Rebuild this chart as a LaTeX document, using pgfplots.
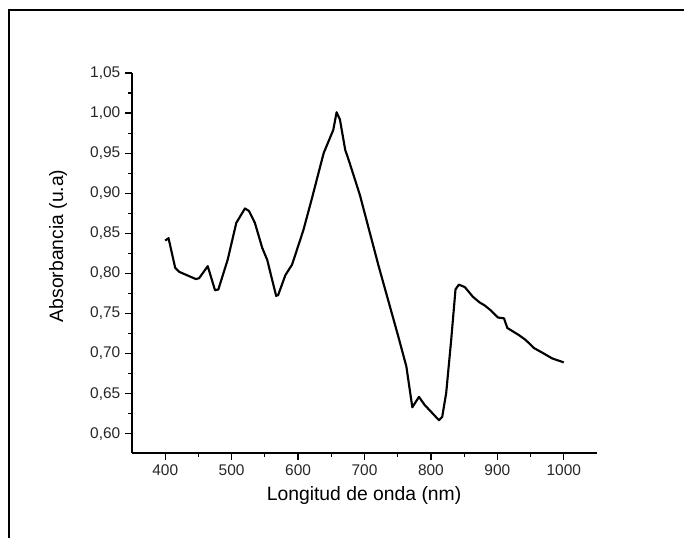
\documentclass[border=0pt]{standalone}
\usepackage{fontspec}
\setmainfont{Liberation Sans}
\usepackage{pgfplots}
\pgfplotsset{compat=1.18}
\begin{document}
\begin{tikzpicture}
\path[use as bounding box] (-99pt,-63.75pt) rectangle (414pt,339.75pt);
\draw[line width=1.1pt] (-92.25pt,-64pt) -- (-92.25pt,332.25pt) -- (415pt,332.25pt);
\begin{axis}[
  at={(0,0)}, anchor=south west,
  scale only axis, width=348.75pt, height=285pt,
  xmin=350, xmax=1050, ymin=0.576, ymax=1.05,
  axis lines*=left,
  axis line style={line width=0.9pt},
  tick align=outside,
  major tick length=5.25pt, minor tick length=3pt,
  every tick/.style={line width=0.9pt, black},
  xtick={400,500,...,1000},
  ytick={0.60,0.65,...,1.051},
  minor x tick num=1, minor y tick num=1,
  /pgf/number format/assume math mode=true,
  yticklabel style={/pgf/number format/.cd, fixed, fixed zerofill, precision=2, use comma},
  xticklabel style={/pgf/number format/.cd, fixed, precision=0, 1000 sep={}},
  tick label style={font=\fontsize{11.6}{14}\selectfont, color=black!85},
  label style={font=\fontsize{14.5}{17}\selectfont},
  xlabel={Longitud de onda (nm)},
  ylabel={Absorbancia (u.a)},
  xlabel style={at={(axis description cs:0.499,-0.113)}, anchor=center},
  ylabel style={at={(axis description cs:-0.159,0.545)}, anchor=center},
]
\addplot[black, line width=1.6pt, line join=round] coordinates {
(400,0.841) (405,0.844) (415,0.807) (421,0.802) (446,0.793) (451,0.794)
(464,0.809) (475,0.779) (480,0.780) (494,0.817) (507,0.863) (520,0.881)
(526,0.878) (535,0.863) (546,0.832) (553.5,0.817) (567,0.772) (570,0.773)
(581,0.798) (591,0.811) (608,0.854) (621,0.894) (638.5,0.950) (648,0.969)
(653,0.979) (658,1.001) (663,0.992) (671,0.954) (676,0.942) (693,0.898)
(721,0.810) (751,0.721) (763,0.684) (772,0.633) (782,0.646)
(790.5,0.636) (812,0.617) (817,0.621) (823,0.651) (830.5,0.717) (837,0.780)
(842,0.786) (851,0.783) (863,0.771) (873,0.764) (881,0.760) (890,0.754)
(901,0.745) (910,0.744) (915,0.732) (932.6,0.723) (942.6,0.717) (955,0.707)
(970,0.700) (982.5,0.694) (996.5,0.690) (1000,0.689)
};
\end{axis}
\end{tikzpicture}
\end{document}
